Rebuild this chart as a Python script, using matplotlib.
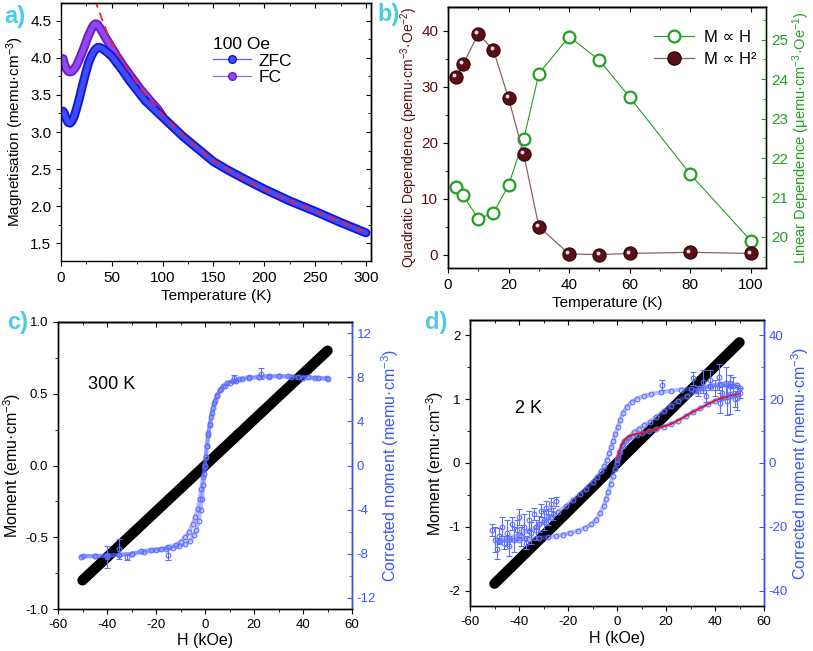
import matplotlib
matplotlib.use('Agg')
import matplotlib.pyplot as plt
from matplotlib.ticker import MultipleLocator
from matplotlib.lines import Line2D
from matplotlib.transforms import ScaledTranslation

plt.rcParams['font.family'] = ['Liberation Sans', 'DejaVu Sans']
plt.rcParams['mathtext.fontset'] = 'custom'
plt.rcParams['mathtext.rm'] = 'Liberation Sans'
plt.rcParams['mathtext.default'] = 'rm'
plt.rcParams['axes.unicode_minus'] = False
plt.rcParams['axes.linewidth'] = 1.0

# ---- panel a: ZFC / FC magnetisation at 100 Oe
a_temp_zfc = [2, 3, 5, 7, 9, 11, 13, 15, 18, 21, 24, 27, 30, 33, 36, 38, 40, 43, 46, 50,
              55, 60, 67, 75, 83, 90, 100, 110, 120, 135, 150, 165, 180, 200, 225, 250, 275, 300]
a_zfc = [3.28, 3.26, 3.18, 3.13, 3.12, 3.15, 3.21, 3.30, 3.45, 3.62, 3.78, 3.93, 4.03, 4.10, 4.14, 4.14,
         4.13, 4.10, 4.07, 4.02, 3.93, 3.84, 3.70, 3.56, 3.42, 3.33, 3.20, 3.07, 2.94, 2.77, 2.60, 2.48,
         2.37, 2.23, 2.07, 1.93, 1.78, 1.64]
a_temp_fc = [2, 3, 5, 7, 9, 11, 13, 15, 18, 21, 24, 27, 30, 32, 34, 36, 38, 41, 44, 48,
             52, 57, 63, 70, 78, 86, 95, 100]
a_fc = [3.99, 3.93, 3.86, 3.82, 3.81, 3.82, 3.85, 3.89, 3.98, 4.08, 4.19, 4.30, 4.39, 4.44, 4.46, 4.45,
        4.41, 4.34, 4.27, 4.18, 4.09, 3.98, 3.86, 3.73, 3.58, 3.45, 3.31, 3.21]
a_fit_temp = [30, 35, 38, 42, 46, 50, 55, 60, 70, 80, 90, 100, 125, 150, 175, 200, 225, 250, 275, 300]
a_fit = [4.95, 4.72, 4.61, 4.46, 4.32, 4.20, 4.08, 3.96, 3.75, 3.56, 3.39, 3.24, 2.90, 2.62, 2.40,
         2.22, 2.07, 1.93, 1.79, 1.65]

# ---- panel b: fitted dependences vs temperature
b_temp = [2.5, 5, 10, 15, 20, 25, 30, 40, 50, 60, 80, 100]
b_quad = [31.7, 34.0, 39.4, 36.5, 27.9, 17.9, 5.0, 0.1, 0.0, 0.2, 0.4, 0.2]
b_lin = [21.27, 21.06, 20.45, 20.61, 21.31, 22.47, 24.14, 25.08, 24.48, 23.54, 21.59, 19.90]

# ---- panel c: 300 K loops
c_raw_h = [-50, -25, 0, 25, 50]
c_raw_m = [-0.8, -0.4, 0.0, 0.4, 0.8]
c_h1 = [49.8, 46, 42, 38, 34, 30, 26, 22, 18, 14, 11.5, 9, 7.5, 6, 4.9, 4, 3.3, 2.6, 2, 1.4, 0.8, 0.3,
        0, -0.3, -0.7, -1.2, -1.8, -2.6, -3.5, -4.6, -6, -8, -10.5, -13, -16, -20, -25, -30, -35, -40,
        -45, -50.5]
c_m1 = [7.9, 7.95, 8.0, 8.05, 8.1, 8.1, 8.1, 8.05, 8.0, 7.85, 7.7, 7.5, 7.2, 6.8, 6.3, 5.8, 5.2, 4.4,
        3.7, 2.9, 1.8, 0.8, 0.0, -0.8, -1.8, -3.0, -4.0, -5.0, -5.8, -6.3, -6.8, -7.1, -7.3, -7.45,
        -7.55, -7.7, -7.85, -8.0, -8.1, -8.2, -8.2, -8.25]
c_h2 = [-50, -45, -40, -35, -30, -26, -22, -18, -15, -12, -10, -8, -6.5, -5, -4, -3, -2.2, -1.5, -0.8,
        -0.2, 0.3, 0.8, 1.3, 2, 2.8, 3.8, 5, 6.5, 8, 10, 12.5, 15, 18, 22, 26, 30, 35, 40, 45, 50]
c_m2 = [-8.2, -8.2, -8.15, -8.1, -8.0, -7.75, -7.65, -7.55, -7.4, -7.2, -6.9, -6.5, -6.0, -5.3, -4.7,
        -3.9, -3.0, -2.1, -1.0, 0.0, 0.8, 1.8, 2.8, 3.8, 4.8, 5.7, 6.4, 6.9, 7.2, 7.5, 7.7, 7.8, 7.9,
        8.0, 8.05, 8.1, 8.0, 7.95, 7.9, 7.85]
c_err_h = [-40, -35, -32, -15, 12, 23]
c_err_m = [-8.3, -7.6, -8.3, -8.1, 7.9, 8.3]
c_err = [1.0, 0.9, 0.3, 0.5, 0.3, 0.5]

# ---- panel d: 2 K loops
d_raw_h = [-50, -25, 0, 25, 50]
d_raw_m = [-1.89, -0.95, 0.0, 0.95, 1.89]
d_h1 = [50, 46, 42, 38, 34, 30, 26, 22, 18, 14, 11, 8, 6, 4, 2.5, 1.3, 0.3, -0.7, -1.5, -2.3, -3.2,
        -4.1, -5.2, -6.5, -8, -10, -12.5, -15, -18, -21, -24, -27, -30, -33, -36, -40, -44, -48]
d_m1 = [23.5, 24.0, 24.5, 24.0, 23.5, 23.2, 23.0, 22.6, 22.2, 21.6, 21.0, 20.2, 19.2, 17.7, 15.8, 13.5,
        11.2, 9.0, 7.0, 5.0, 3.0, 1.0, -1.0, -2.6, -4.3, -6.0, -8.0, -9.6, -11.6, -13.6, -15.2, -16.8,
        -18.5, -20.0, -21.2, -22.5, -23.5, -24.5]
d_h2 = [-48, -44, -40, -36, -32, -28, -25, -22, -19, -16, -13, -10.5, -8.5, -6.9, -5.5, -4.4, -3.5,
        -2.6, -1.8, -1.0, -0.2, 0.6, 1.4, 2.4, 3.6, 5, 7, 9, 11, 13.5, 16, 19, 22, 25, 28.5, 32, 35,
        38, 42, 46, 49]
d_m2 = [-24.5, -24.2, -24.0, -23.8, -23.5, -23.2, -22.9, -22.4, -21.9, -21.2, -20.3, -19.2, -17.8,
        -15.7, -13.5, -11.2, -9.0, -6.6, -4.2, -2.0, 0.0, 1.8, 3.6, 5.4, 7.0, 8.3, 9.7, 10.8, 11.8,
        13.0, 14.5, 16.2, 17.9, 19.4, 21.0, 22.5, 23.5, 24.2, 24.8, 25.0, 24.5]
d_hv = [0, 1, 2, 3, 4.5, 6, 8, 10, 13, 16, 19, 22, 25, 28, 31, 34, 37, 40, 43, 46, 49]
d_mv = [1.0, 3.5, 5.5, 6.8, 7.8, 8.4, 8.9, 9.3, 9.9, 10.6, 11.4, 12.2, 13.3, 14.6, 16.0, 17.2, 18.5,
        19.5, 20.3, 21.0, 21.6]
d_fit_h = [0, 1, 2, 3.5, 5, 7, 10, 14, 18, 22, 26, 30, 34, 38, 42, 46, 50]
d_fit_m = [1.0, 3.8, 5.8, 7.6, 8.4, 8.9, 9.4, 10.2, 11.2, 12.2, 13.8, 15.6, 17.2, 18.8, 20.2, 21.0, 21.7]
d_noise_h = [-51, -50, -49, -48, -47, -46, -45, -44, -43, -42, -41, -40, -39, -38, -37, -36, -35,
             -34, -33, -32, -31, -30, -29, -28, -27, -26, -25, 18.5,
             31, 33, 35, 36.5, 38, 40, 41.5, 43, 44.5, 46, 47.5, 49, 50, 42, 45, 48]
d_noise_m = [-21, -24, -27, -23, -20, -25, -22, -26, -19, -24, -21, -17, -23, -20, -25, -18, -22,
             -16, -21, -19, -15, -18, -14, -17, -13, -16, -12, 24.5,
             26.5, 22.5, 25.5, 21.0, 26.0, 23.5, 27.0, 22.0, 25.0, 21.5, 24.0, 20.5, 22.0, 18.8, 19.5, 20.0]
d_noise_err = [2, 4, 3, 2.5, 3, 2, 4, 3, 2, 4, 3, 2.5, 3, 4, 2, 3, 3.5, 2, 3, 2.5, 2, 3, 2, 2.5, 2, 2,
               1.5, 1.5,
               2.0, 1.5, 3.5, 2.0, 3.0, 2.5, 4.0, 2.0, 5.0, 6.0, 3.0, 4.0, 1.5, 3.0, 4.5, 2.5]

ZFC_EDGE, ZFC_FILL = '#1414d8', '#3c4cff'
FC_EDGE, FC_FILL = '#6a1cc8', '#9048f0'
GREEN = '#22a022'
MAROON = '#5a0f16'
BLUE = '#3a55ff'
PT = '#5d6eff'
CYAN = '#4ccbe6'

W, H = 813, 651
fig = plt.figure(figsize=(W / 100, H / 100), dpi=100)


def frame(ax, xmaj, xmin, ymaj, ymin, size):
    ax.xaxis.set_major_locator(MultipleLocator(xmaj))
    ax.xaxis.set_minor_locator(MultipleLocator(xmin))
    ax.yaxis.set_major_locator(MultipleLocator(ymaj))
    ax.yaxis.set_minor_locator(MultipleLocator(ymin))
    ax.tick_params(which='both', direction='out', top=False, right=False, labelsize=size)
    ax.tick_params(which='major', length=3.5)
    ax.tick_params(which='minor', length=2)
    top = ax.secondary_xaxis('top')
    top.xaxis.set_major_locator(MultipleLocator(xmaj))
    top.xaxis.set_minor_locator(MultipleLocator(xmin))
    top.tick_params(which='both', direction='in', labeltop=False)
    top.tick_params(which='major', length=3.5)
    top.tick_params(which='minor', length=2)


def right_ticks(ax, ymaj, ymin, color, size):
    ax.yaxis.set_major_locator(MultipleLocator(ymaj))
    ax.yaxis.set_minor_locator(MultipleLocator(ymin))
    ax.tick_params(which='both', direction='in', colors=color, labelsize=size)
    ax.tick_params(which='major', length=3.5)
    ax.tick_params(which='minor', length=2)
    ax.spines['right'].set_color(color)


def panel_rect(x0, y0, x1, y1):
    return [x0 / W, 1 - y1 / H, (x1 - x0) / W, (y1 - y0) / H]


def loop_panel(ax2, branches, err_h, err_m, err):
    for hh, mm in branches:
        ax2.plot(hh, mm, color=PT, lw=3, alpha=0.45, solid_joinstyle='round')
        ax2.plot(hh, mm, 'o', ls='none', ms=3.4, mfc='none', mec=PT, mew=0.8)
    ax2.errorbar(err_h, err_m, yerr=err, fmt='o', ms=3.4, mfc='none', mec=PT, mew=0.8,
                 ecolor=PT, elinewidth=0.8, capsize=2.2, capthick=0.8)


# ---------------- a)
axa = fig.add_axes(panel_rect(61, 3, 371, 261))
axa.plot(a_temp_fc, a_fc, color=FC_EDGE, lw=6.5, solid_capstyle='round', solid_joinstyle='round')
axa.plot(a_temp_fc, a_fc, color=FC_FILL, lw=3.8, solid_capstyle='round', solid_joinstyle='round')
axa.plot(a_temp_zfc, a_zfc, color=ZFC_EDGE, lw=6.5, solid_capstyle='round', solid_joinstyle='round')
axa.plot(a_temp_zfc, a_zfc, color=ZFC_FILL, lw=3.8, solid_capstyle='round', solid_joinstyle='round')
axa.plot(a_fit_temp, a_fit, color='#e8262b', lw=1.3, ls=(0, (5, 3)))
axa.set_xlim(0, 305)
axa.set_ylim(1.26, 4.74)
frame(axa, 50, 25, 0.5, 0.25, 11)
ra = axa.secondary_yaxis('right')
ra.yaxis.set_major_locator(MultipleLocator(0.5))
ra.yaxis.set_minor_locator(MultipleLocator(0.25))
ra.tick_params(which='both', direction='in', labelright=False)
ra.tick_params(which='major', length=3.5)
ra.tick_params(which='minor', length=2)
axa.set_xlabel('Temperature (K)', fontsize=11, labelpad=3)
axa.set_ylabel('Magnetisation (memu·cm$^{-3}$)', fontsize=11, labelpad=3)
handles = [Line2D([], [], color='#5a5aff', lw=0.9, marker='o', ms=5.5, mfc=ZFC_FILL, mec=ZFC_EDGE),
           Line2D([], [], color='#9a70e0', lw=0.9, marker='o', ms=5.5, mfc=FC_FILL, mec=FC_EDGE)]
axa.legend(handles, ['ZFC', 'FC'], title='100 Oe', loc='upper left',
           bbox_to_anchor=(0.44, 0.93), frameon=False, fontsize=12.5, title_fontsize=12.5,
           handlelength=2.2, handletextpad=0.4, labelspacing=0.1, alignment='left')

# ---------------- b)
axb = fig.add_axes(panel_rect(448, 7, 766, 268))
axb2 = axb.twinx()
axb.set_zorder(2)
axb.patch.set_visible(False)
axb2.plot(b_temp, b_lin, color=GREEN, lw=0.8)
axb2.plot(b_temp, b_lin, 'o', ls='none', ms=8.5, mfc='white', mec=GREEN, mew=1.6)
axb.plot(b_temp, b_quad, color='#8c6068', lw=0.9)
axb.plot(b_temp, b_quad, 'o', ls='none', ms=9.5, mfc=MAROON, mec='#2a0508', mew=0.8)
hl = axb.transData + ScaledTranslation(-1.3 / 72, 1.3 / 72, fig.dpi_scale_trans)
axb.plot(b_temp, b_quad, 'o', ls='none', ms=2.8, mfc='#f2d8e2', mec='none', transform=hl)
axb.set_xlim(0, 105)
axb.set_ylim(-2.4, 44.2)
axb2.set_ylim(19.21, 25.83)
frame(axb, 20, 10, 10, 5, 11)
axb.tick_params(axis='y', labelcolor=MAROON)
right_ticks(axb2, 1, 0.5, GREEN, 11)
axb.set_xlabel('Temperature (K)', fontsize=11, labelpad=3)
axb.set_ylabel('Quadratic Dependence (pemu·cm$^{-3}$·Oe$^{-2}$)', fontsize=10, color=MAROON,
               labelpad=1)
axb2.set_ylabel('Linear Dependence (μemu·cm$^{-3}$·Oe$^{-1}$)', fontsize=10.5, color=GREEN,
                labelpad=2)
hb = [Line2D([], [], color=GREEN, lw=0.8, marker='o', ms=8.5, mfc='white', mec=GREEN, mew=1.6),
      Line2D([], [], color='#8c6068', lw=0.9, marker='o', ms=9.5, mfc=MAROON, mec='#2a0508')]
axb.legend(hb, ['M ∝ H', 'M ∝ H²'], loc='upper left', bbox_to_anchor=(0.6, 0.97),
           frameon=False, fontsize=12, handlelength=2.4, handletextpad=0.6, labelspacing=0.45)

# ---------------- c)
axc = fig.add_axes(panel_rect(58, 322, 352, 609))
axc.plot(c_raw_h, c_raw_m, color='black', lw=7.5, solid_capstyle='round')
axc.set_xlim(-60, 60)
axc.set_ylim(-1.0, 1.0)
frame(axc, 20, 10, 0.5, 0.25, 9.5)
axc2 = axc.twinx()
loop_panel(axc2, [(c_h1, c_m1), (c_h2, c_m2)], c_err_h, c_err_m, c_err)
axc2.set_ylim(-13, 13)
right_ticks(axc2, 4, 2, BLUE, 9.5)
axc.set_xlabel('H (kOe)', fontsize=11.5, labelpad=2)
axc.set_ylabel('Moment (emu·cm$^{-3}$)', fontsize=11.5, labelpad=2)
axc2.set_ylabel('Corrected moment (memu·cm$^{-3}$)', fontsize=11.5, color=BLUE, labelpad=2)
axc.text(0.103, 0.783, '300 K', transform=axc.transAxes, fontsize=13, va='center')

# ---------------- d)
axd = fig.add_axes(panel_rect(470, 320, 764, 606))
axd.plot(d_raw_h, d_raw_m, color='black', lw=7.5, solid_capstyle='round')
axd.set_xlim(-60, 60)
axd.set_ylim(-2.24, 2.24)
frame(axd, 20, 10, 1, 0.5, 9.5)
axd2 = axd.twinx()
loop_panel(axd2, [(d_h1, d_m1), (d_h2, d_m2), (d_hv, d_mv)],
           d_noise_h, d_noise_m, d_noise_err)
axd2.plot(d_fit_h, d_fit_m, color='#e01a1a', lw=1.4)
axd2.set_ylim(-44.8, 44.8)
right_ticks(axd2, 20, 10, BLUE, 9.5)
axd.set_xlabel('H (kOe)', fontsize=11.5, labelpad=2)
axd.set_ylabel('Moment (emu·cm$^{-3}$)', fontsize=11.5, labelpad=2)
axd2.set_ylabel('Corrected moment (memu·cm$^{-3}$)', fontsize=11.5, color=BLUE, labelpad=1)
axd.text(0.154, 0.689, '2 K', transform=axd.transAxes, fontsize=13, va='center')

# panel letters
for lab, x, y in [('a)', 15, 16), ('b)', 389, 14), ('c)', 18, 322), ('d)', 436, 322)]:
    fig.text(x / W, 1 - y / H, lab, color=CYAN, fontsize=17, fontweight='bold',
             ha='center', va='center')

fig.savefig('out.png', dpi=100)
